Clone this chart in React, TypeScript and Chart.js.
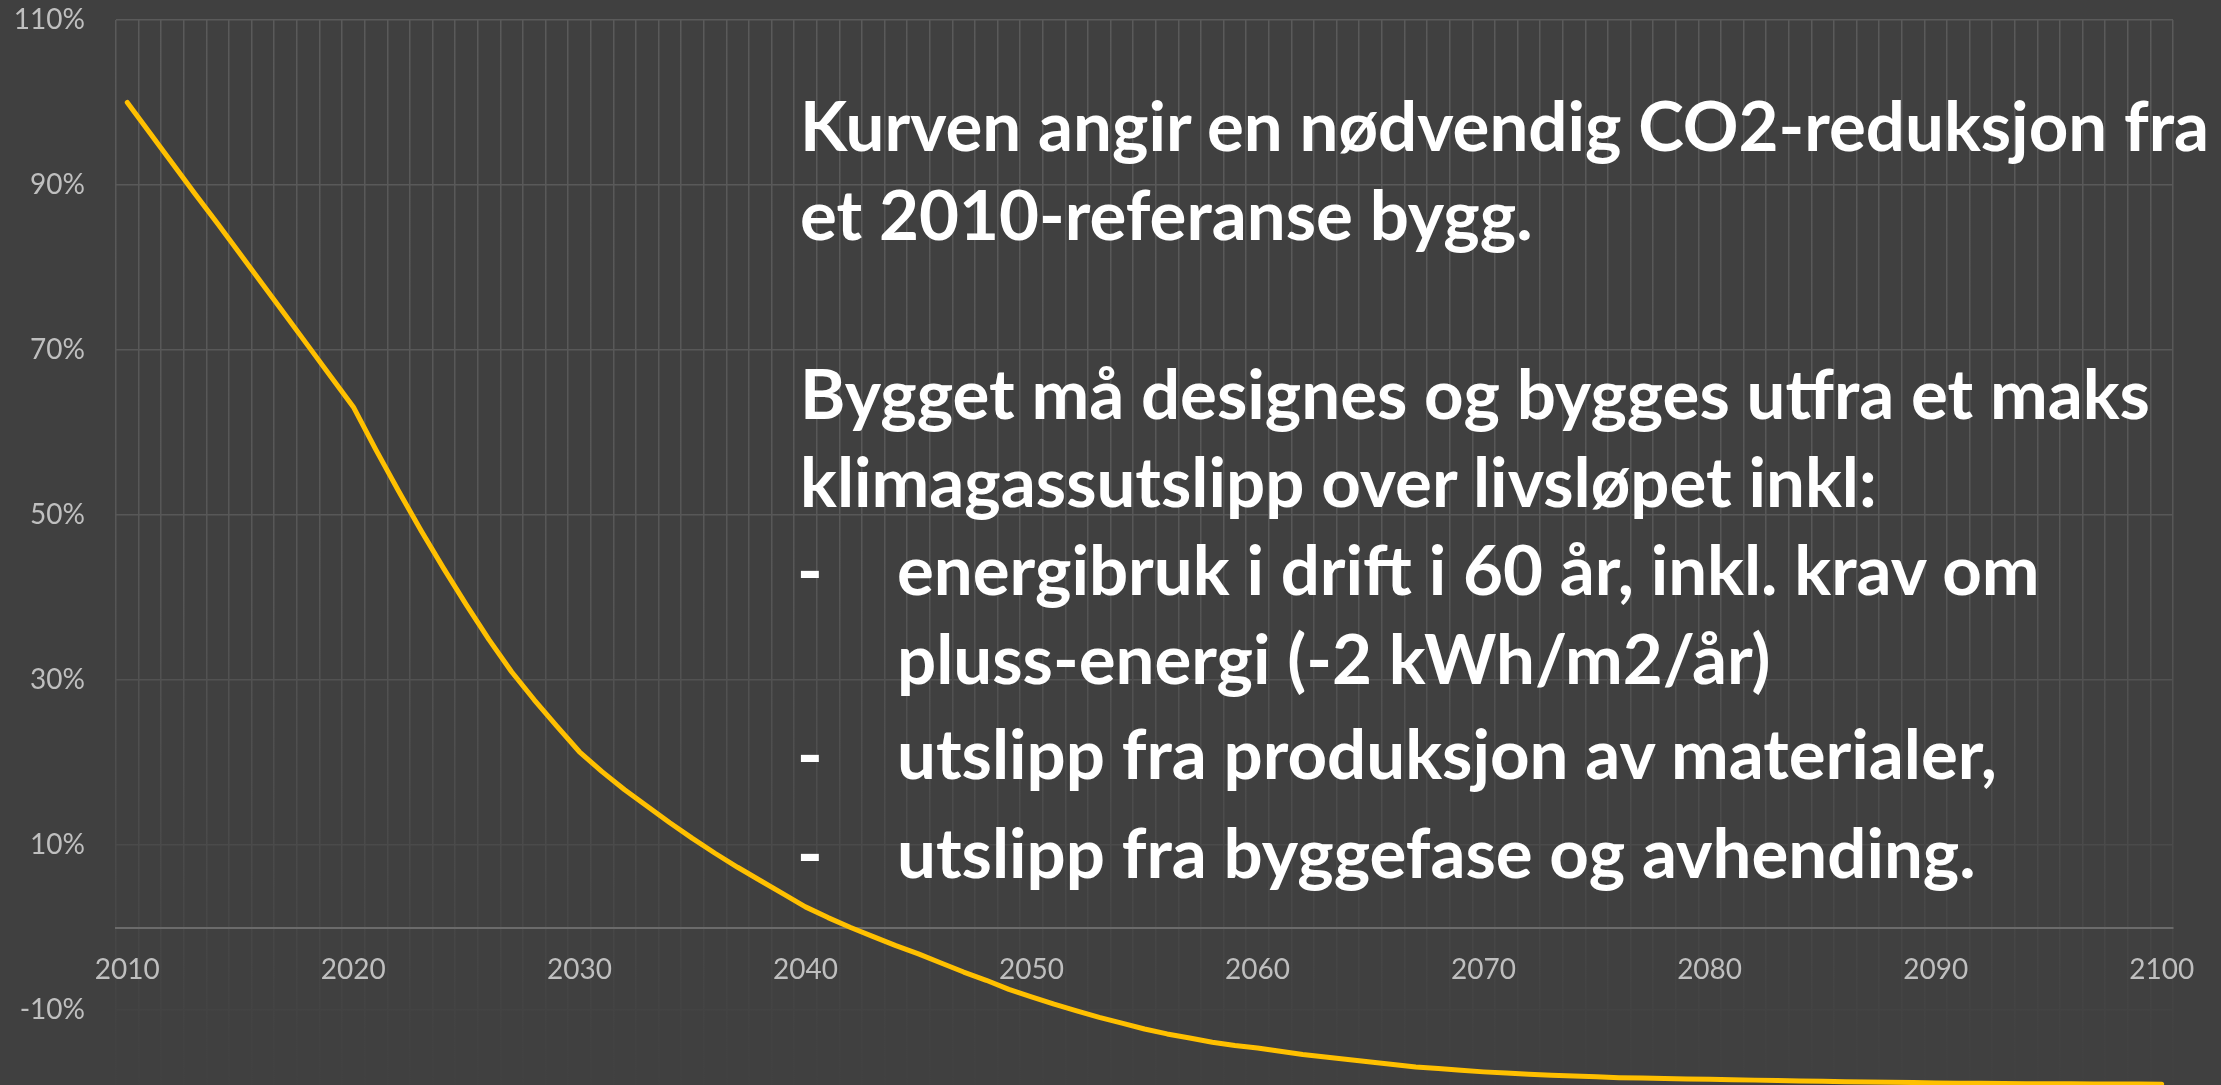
import React, { useEffect, useRef } from 'react';
import { Chart, registerables } from 'chart.js';

Chart.register(...registerables);

// ---- data -------------------------------------------------------------
const FIRST_YEAR = 2010;
const LAST_YEAR = 2100;
const years: string[] = [];
for (let y = FIRST_YEAR; y <= LAST_YEAR; y++) years.push(String(y));

const xTickLabels = ['2010', '2020', '2030', '2040', '2050', '2060', '2070', '2080', '2090', '2100'];
const yTickValues = [-10, 10, 30, 50, 70, 90, 110];
const Y_MIN = -20;
const Y_MAX = 110;

// Required CO2 level relative to a 2010 reference building (%), one value per year
const requiredLevel = [
  100, 96.3, 92.6, 88.9, 85.3, 81.6, 77.9, 74.2, 70.5, 66.8,
  63.1, 57.9, 52.9, 48.1, 43.5, 39.1, 34.9, 31.0, 27.6, 24.4,
  21.3, 18.9, 16.7, 14.7, 12.7, 10.8, 9.0, 7.3, 5.7, 4.1,
  2.5, 1.2, 0.0, -1.1, -2.2, -3.2, -4.3, -5.4, -6.4, -7.5,
  -8.4, -9.3, -10.1, -10.9, -11.6, -12.3, -12.9, -13.4, -13.9, -14.3,
  -14.6, -15.0, -15.4, -15.7, -16.0, -16.3, -16.6, -16.9, -17.1, -17.3,
  -17.5, -17.65, -17.8, -17.9, -18.0, -18.1, -18.2, -18.25, -18.3, -18.35,
  -18.4, -18.45, -18.5, -18.55, -18.6, -18.65, -18.7, -18.72, -18.75, -18.8,
  -18.85, -18.87, -18.89, -18.91, -18.93, -18.94, -18.95, -18.96, -18.97, -18.98,
  -19.0,
];

// ---- text overlay -----------------------------------------------------
const textLines = [
  { text: 'Kurven angir en nødvendig CO2-reduksjon fra', bullet: false, indent: false, baseline: 152 },
  { text: 'et 2010-referanse bygg.', bullet: false, indent: false, baseline: 241 },
  { text: 'Bygget må designes og bygges utfra et maks', bullet: false, indent: false, baseline: 420 },
  { text: 'klimagassutslipp over livsløpet inkl:', bullet: false, indent: false, baseline: 508 },
  { text: 'energibruk i drift i 60 år, inkl. krav om', bullet: true, indent: true, baseline: 596 },
  { text: 'pluss-energi (-2 kWh/m2/år)', bullet: false, indent: true, baseline: 685 },
  { text: 'utslipp fra produksjon av materialer,', bullet: true, indent: true, baseline: 780 },
  { text: 'utslipp fra byggefase og avhending.', bullet: true, indent: true, baseline: 879 },
];

const W = 2221;
const H = 1113;
const TEXT_SIZE = 69;
const TEXT_LEFT = 800;
const TEXT_INDENT = 897;

export default function App() {
  const canvasRef = useRef<HTMLCanvasElement | null>(null);

  useEffect(() => {
    const canvas = canvasRef.current;
    if (!canvas) return;
    let grad: CanvasGradient | null = null;
    const gridColor = (ctx: any) => {
      if (!grad) {
        const c = ctx.chart.ctx as CanvasRenderingContext2D;
        grad = c.createLinearGradient(0, 0, 0, H);
        grad.addColorStop(0, '#5a5a5a');
        grad.addColorStop(560 / H, '#575757');
        grad.addColorStop(1035 / H, '#424242');
        grad.addColorStop(1, '#404040');
      }
      return grad;
    };
    const tickFont = { family: 'Lato, "Open Sans", sans-serif', size: 28 };

    const chart = new Chart(canvas, {
      type: 'line',
      data: {
        labels: years,
        datasets: [
          {
            data: requiredLevel,
            borderColor: '#FFC000',
            borderWidth: 5,
            pointRadius: 0,
            pointHoverRadius: 0,
            tension: 0,
            borderCapStyle: 'round',
            borderJoinStyle: 'round',
            fill: false,
          },
        ],
      },
      options: {
        responsive: false,
        animation: false,
        events: [],
        layout: { padding: { left: 0, right: 48, top: 20, bottom: 20.5 } },
        plugins: { legend: { display: false }, tooltip: { enabled: false } },
        scales: {
          x: {
            type: 'category',
            offset: true,
            position: { y: 0 },
            grid: { offset: true, color: gridColor, lineWidth: 1.5, drawTicks: false },
            border: { display: true, color: '#6b6b6b', width: 2 },
            ticks: {
              autoSkip: false,
              maxRotation: 0,
              minRotation: 0,
              color: '#BFBFBF',
              font: tickFont,
              padding: 26,
              callback: (_v: any, i: number) => (xTickLabels.includes(years[i]) ? years[i] : ''),
            },
          },
          y: {
            min: Y_MIN,
            max: Y_MAX,
            afterBuildTicks: (s: any) => {
              s.ticks = yTickValues.map((v) => ({ value: v }));
            },
            afterFit: (s: any) => {
              s.width = 116;
            },
            grid: {
              color: gridColor,
              lineWidth: 1.5,
              drawTicks: true,
              tickLength: 29,
              tickColor: 'rgba(0,0,0,0)',
            },
            border: { display: false },
            ticks: {
              color: '#BFBFBF',
              font: tickFont,
              padding: 2,
              callback: (v: any) => `${v}%`,
            },
          },
        },
      },
    } as any);
    return () => chart.destroy();
  }, []);

  const textStyle = {
    position: 'absolute' as const,
    fontFamily: 'Lato, "Open Sans", sans-serif',
    fontWeight: 700,
    fontSize: TEXT_SIZE,
    lineHeight: `${1.2 * TEXT_SIZE}px`,
    color: '#FFFFFF',
    whiteSpace: 'nowrap' as const,
  };

  return (
    <div
      style={{
        position: 'fixed',
        left: 0,
        top: 0,
        width: W,
        height: 1085,
        overflow: 'hidden',
        background: '#404040',
      }}
    >
      <canvas
        ref={canvasRef}
        width={W}
        height={H}
        style={{ position: 'absolute', left: 0, top: 0, width: W, height: H }}
      />
      {textLines.map((l, i) => (
        <React.Fragment key={i}>
          {l.bullet && (
            <div style={{ ...textStyle, left: TEXT_LEFT - 3, top: l.baseline - 0.987 * TEXT_SIZE }}>-</div>
          )}
          <div
            style={{
              ...textStyle,
              left: l.indent ? TEXT_INDENT : TEXT_LEFT,
              top: l.baseline - 0.987 * TEXT_SIZE,
            }}
          >
            {l.text}
          </div>
        </React.Fragment>
      ))}
    </div>
  );
}
